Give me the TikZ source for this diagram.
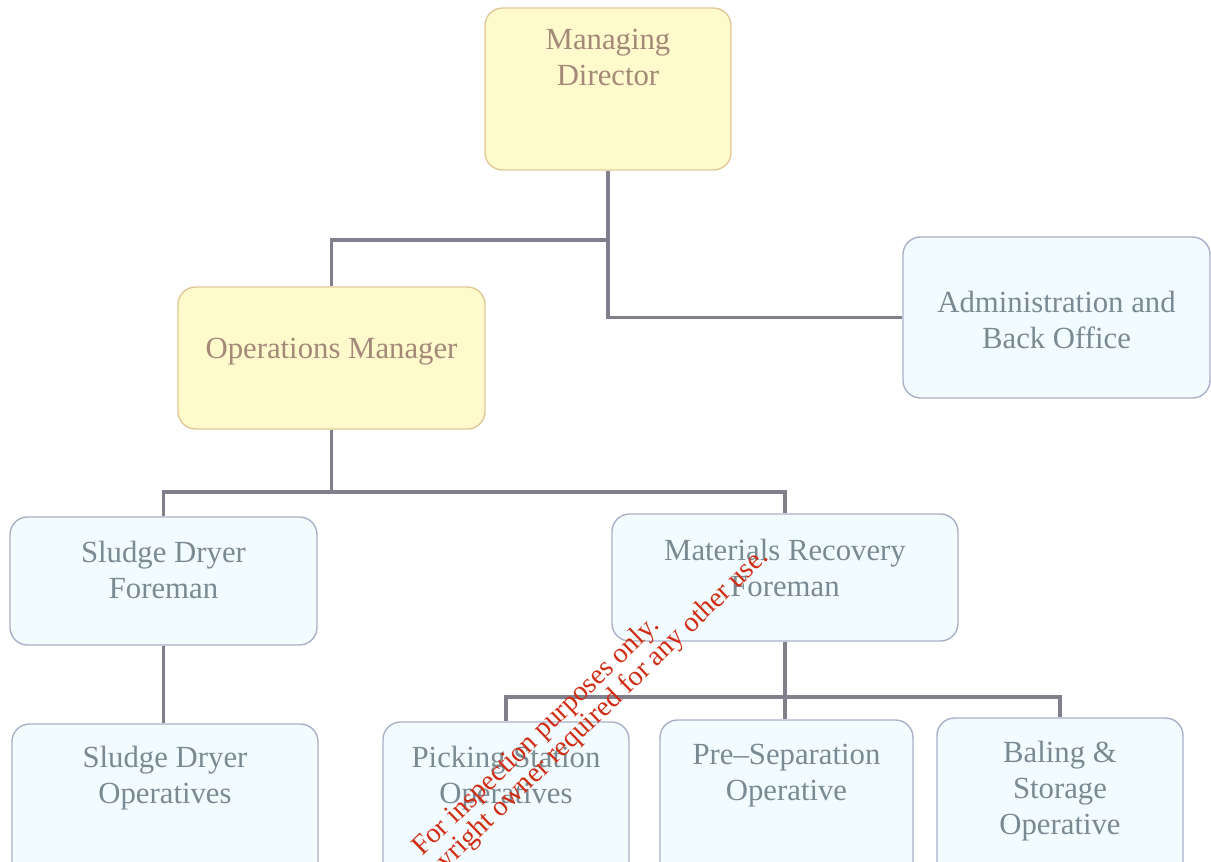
\documentclass[tikz,border=0pt]{standalone}
\usepackage{fontspec}
\setmainfont{Liberation Serif}
\newcommand\pxu{0.02cm}
\definecolor{yfill}{RGB}{255,250,204}
\definecolor{ydraw}{RGB}{226,200,150}
\definecolor{ytext}{RGB}{164,136,120}
\definecolor{bfill}{RGB}{242,252,255}
\definecolor{bdraw}{RGB}{170,176,200}
\definecolor{btext}{RGB}{122,138,146}
\definecolor{linkgray}{RGB}{128,128,140}
\definecolor{stamp}{RGB}{208,44,20}
\tikzset{
  box/.style={rounded corners=10pt, line width=0.8pt},
  ybox/.style={box, draw=ydraw, fill=yfill},
  bbox/.style={box, draw=bdraw, fill=bfill},
  ytxt/.style={align=center, text=ytext, font=\fontsize{17.5}{20.5}\selectfont},
  btxt/.style={align=center, text=btext, font=\fontsize{17.5}{20.5}\selectfont},
  link/.style={draw=linkgray, line width=2.2pt},
  stamptxt/.style={text=stamp, rotate=44, inner sep=0pt, font=\fontsize{16}{18}\selectfont}
}
\begin{document}
\begin{tikzpicture}[x=0.02cm, y=-0.02cm]
\clip (0,0) rectangle (1211,862);
\fill[white] (0,0) rectangle (1211,862);
% boxes
\node[ybox, minimum width=246*\pxu, minimum height=162*\pxu] (md) at (608,89) {};
\node[ybox, minimum width=307*\pxu, minimum height=142*\pxu] (om) at (331.5,358) {};
\node[bbox, minimum width=307*\pxu, minimum height=161*\pxu] (adm) at (1056.5,317.5) {};
\node[bbox, minimum width=307*\pxu, minimum height=128*\pxu] (sdf) at (163.5,581) {};
\node[bbox, minimum width=346*\pxu, minimum height=127*\pxu] (mrf) at (785,577.5) {};
\node[bbox, minimum width=306*\pxu, minimum height=156*\pxu] (sdo) at (165,802) {};
\node[bbox, minimum width=246*\pxu, minimum height=158*\pxu] (pso) at (506,801) {};
\node[bbox, minimum width=253*\pxu, minimum height=160*\pxu] (psep) at (786.5,800) {};
\node[bbox, minimum width=246*\pxu, minimum height=162*\pxu] (bal) at (1060,799) {};
% texts
\node[ytxt] (mdT) at (608,57) {Managing\\Director};
\node[ytxt] (omT) at (331.5,352) {Operations Manager};
\node[btxt] (admT) at (1056.5,319.5) {Administration and\\Back Office};
\node[btxt] (sdfT) at (163.5,570) {Sludge Dryer\\Foreman};
\node[btxt] (mrfT) at (785,567.5) {Materials Recovery\\Foreman};
\node[btxt] (sdoT) at (165,778) {Sludge Dryer\\Operatives};
\node[btxt] (psoT) at (506,778) {Picking Station\\Operatives};
\node[btxt] (psepT) at (786.5,776) {Pre--Separation\\Operative};
\node[btxt] (balT) at (1060,791) {Baling \&\\Storage\\Operative};
% links
\coordinate (mdJ) at (608,240);
\coordinate (omJ) at (331.5,492);
\coordinate (mrfJ) at (785,697);
\draw[link] (md.south) |- (adm.west);
\draw[link] (mdJ) -| (om.north);
\draw[link] (om.south) -- (omJ);
\draw[link] (sdf.north) |- (omJ) -| (mrf.north);
\draw[link] (sdf.south) -- (sdf.south |- sdo.north);
\draw[link] (mrf.south) -- (mrfJ);
\draw[link] (pso.north) |- (mrfJ) -| (bal.north);
\draw[link] (mrfJ) -- (mrfJ |- psep.north);
% stamp
\node[stamptxt, anchor=base west] (stampA) at (422,857) {For inspection purposes only.};
\node[stamptxt, anchor=base east] (stampB) at (770,558) {Consent of copyright owner required for any other use.};
\end{tikzpicture}
\end{document}
